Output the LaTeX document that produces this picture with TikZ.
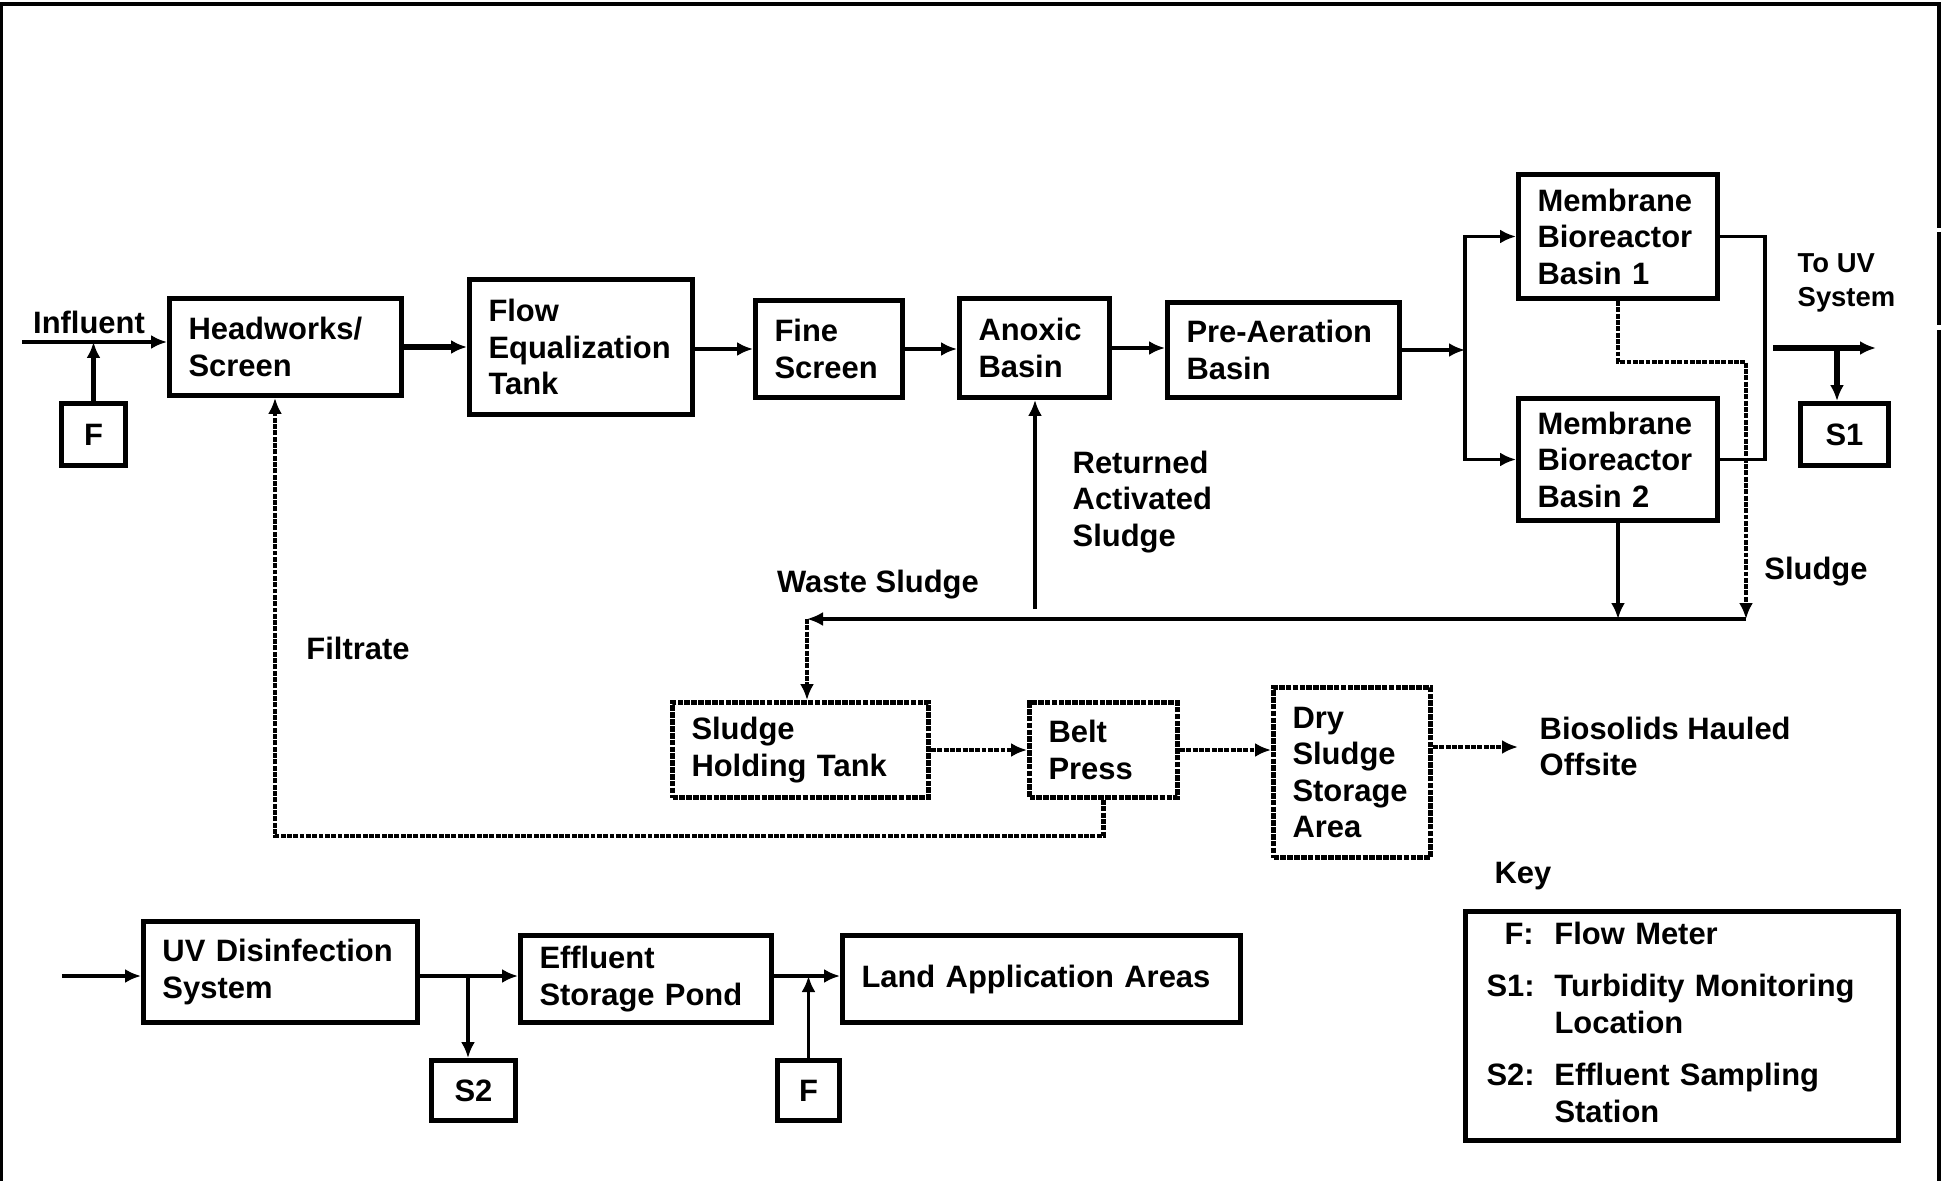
\documentclass[tikz,border=0pt]{standalone}
\usepackage{fontspec}
\setmainfont{Liberation Sans}
\usetikzlibrary{arrows.meta}

\begin{document}
\begin{tikzpicture}[
    every node/.style={font=\fontsize{8.8}{10.4}\selectfont\bfseries},
    unit/.style={draw, line width=1.4pt, align=left, inner xsep=0.19cm, inner ysep=0pt},
    dotbox/.style={unit, dash pattern=on 1.6pt off 0.35pt},
    tag/.style={draw, line width=1.4pt, inner sep=0pt},
    lbl/.style={align=left, inner sep=0pt},
    flow/.style={->, >={Latex[length=0.16cm,width=0.14cm]}, line width=0.9pt},
    heavy/.style={flow, line width=1.5pt},
    dotflow/.style={flow, dash pattern=on 1.4pt off 0.4pt},
    dotheavy/.style={dotflow, line width=1.3pt},
    ]
    \useasboundingbox (0,0) rectangle (19.42,-11.81);
    % frame
    \draw[line width=0.9pt] (0.015,-11.81) -- (0.015,-0.04) -- (19.39,-0.04) -- (19.39,-2.28);
    \draw[line width=0.9pt] (19.39,-2.32) -- (19.39,-3.25);
    \draw[line width=0.9pt] (19.39,-3.30) -- (19.39,-11.81);

    % main train
    \node[unit, minimum width=2.32cm, minimum height=0.97cm, text width=1.94cm] (hw) at (2.855,-3.47) {Headworks/\\Screen};
    \node[unit, minimum width=2.23cm, minimum height=1.35cm, text width=1.85cm] (feq) at (5.81,-3.47) {Flow\\Equalization\\Tank};
    \node[unit, minimum width=1.47cm, minimum height=0.97cm, text width=1.09cm] (fine) at (8.29,-3.49) {Fine\\Screen};
    \node[unit, minimum width=1.50cm, minimum height=0.99cm, text width=1.12cm] (anox) at (10.345,-3.48) {Anoxic\\Basin};
    \node[unit, minimum width=2.32cm, minimum height=0.95cm, text width=1.94cm] (pre) at (12.835,-3.50) {Pre-Aeration\\Basin};
    \node[unit, minimum width=1.99cm, minimum height=1.24cm, text width=1.61cm] (mbr1) at (16.18,-2.365) {Membrane\\Bioreactor\\Basin 1};
    \node[unit, minimum width=1.99cm, minimum height=1.22cm, text width=1.61cm] (mbr2) at (16.18,-4.595) {Membrane\\Bioreactor\\Basin 2};
    \node[tag, minimum width=0.88cm, minimum height=0.62cm] (s1) at (18.445,-4.345) {S1};
    \node[tag, minimum width=0.64cm, minimum height=0.62cm] (ftop) at (0.935,-4.345) {F};

    % sludge train
    \node[dotbox, minimum width=2.56cm, minimum height=0.95cm, text width=2.18cm] (sht) at (8.005,-7.50) {Sludge\\Holding Tank};
    \node[dotbox, minimum width=1.48cm, minimum height=0.95cm, text width=1.10cm] (belt) at (11.035,-7.50) {Belt\\Press};
    \node[dotbox, minimum width=1.57cm, minimum height=1.70cm, text width=1.19cm] (dry) at (13.52,-7.725) {Dry\\Sludge\\Storage\\Area};

    % effluent train
    \node[unit, minimum width=2.74cm, minimum height=1.01cm, text width=2.36cm] (uv) at (2.805,-9.72) {UV Disinfection\\System};
    \node[unit, minimum width=2.51cm, minimum height=0.87cm, text width=2.13cm] (esp) at (6.46,-9.79) {Effluent\\Storage Pond};
    \node[unit, minimum width=3.98cm, minimum height=0.87cm, text width=3.60cm] (land) at (10.415,-9.79) {Land Application Areas};
    \node[tag, minimum width=0.84cm, minimum height=0.60cm] (s2) at (4.735,-10.905) {S2};
    \node[tag, minimum width=0.62cm, minimum height=0.60cm] (fbot) at (8.085,-10.905) {F};

    % labels
    \node[lbl] (lblinf) at (0.89,-3.22) {Influent};
    \node[lbl, anchor=west, font=\fontsize{7.8}{9.5}\selectfont\bfseries] (lbluv) at (17.97,-2.83) {To UV\\System};
    \node[lbl, anchor=west] (lblras) at (10.72,-5.02) {Returned\\Activated\\Sludge};
    \node[lbl] (lblwaste) at (8.78,-5.85) {Waste Sludge};
    \node[lbl] (lblsludge) at (18.16,-5.72) {Sludge};
    \node[lbl] (lblfilt) at (3.58,-6.48) {Filtrate};
    \node[lbl, anchor=west] (bio) at (15.39,-7.465) {Biosolids Hauled\\Offsite};

    % key
    \node[lbl] (lblkey) at (15.23,-8.76) {Key};
    \node[unit, minimum width=4.29cm, minimum height=2.29cm, text width=3.91cm, inner xsep=0.21cm] (key) at (16.82,-10.26) {\begin{tabular}{@{}p{0.68cm}@{}l@{}}
        \hspace{0.18cm}F: & Flow Meter\\[0.16cm]
        S1: & Turbidity Monitoring\\
            & Location\\[0.16cm]
        S2: & Effluent Sampling\\
            & Station
    \end{tabular}};

    % main flow
    \coordinate (infs) at (0.22,-3.42);
    \draw[flow] (infs) -- (infs -| hw.west);
    \draw[heavy] (ftop.north) -- (ftop.north |- infs);
    \draw[heavy] (hw.east) -- (hw.east -| feq.west);
    \draw[flow] (fine.west -| feq.east) -- (fine.west);
    \draw[flow] (fine.east) -- (fine.east -| anox.west);
    \draw[flow] (anox.east) -- (anox.east -| pre.west);
    \coordinate (split) at (14.65,-3.50);
    \draw[flow] (pre.east) -- (split);
    \draw[flow] (split) |- (mbr1.west);
    \draw[flow] (split) |- (mbr2.west);
    \coordinate (join) at (17.65,-3.48);
    \draw[line width=0.9pt] (mbr1.east) -| (join) |- (mbr2.east);
    \coordinate (uvend) at (18.76,-3.48);
    \draw[heavy] ([xshift=0.08cm]join) -- (uvend);
    \coordinate (s1tap) at (18.37,-3.48);
    \draw[heavy] (s1tap) -- (s1tap |- s1.north);

    % sludge lines
    \coordinate (bend1) at (17.46,-3.62);
    \coordinate (slend) at (17.46,-6.19);
    \draw[dotflow] (mbr1.south) |- (bend1) -- (slend);
    \draw[flow] (mbr2.south) -- (mbr2.south |- slend);
    \coordinate (wsl) at (8.07,-6.19);
    \draw[flow, line width=1.3pt] (slend) -- (wsl);
    \draw[dotflow] (wsl) -- (wsl |- sht.north);
    \coordinate (rasb) at (10.35,-6.09);
    \draw[flow] (rasb) -- (rasb |- anox.south);
    \draw[dotheavy] (sht.east) -- (belt.west);
    \draw[dotheavy] (belt.east) -- (belt.east -| dry.west);
    \coordinate (haul) at (15.18,-7.47);
    \draw[dotheavy] (dry.east |- haul) -- (haul);
    \coordinate (filt) at (2.75,-8.36);
    \draw[dotheavy] (belt.south) |- (filt) -- (filt |- hw.south);

    % effluent lines
    \coordinate (uvin) at (0.62,-9.76);
    \draw[flow, line width=1.2pt] (uvin) -- (uvin -| uv.west);
    \draw[flow, line width=1.2pt] (uv.east |- uvin) -- (uvin -| esp.west);
    \coordinate (s2tap) at (4.68,-9.76);
    \draw[flow] (s2tap) -- (s2tap |- s2.north);
    \draw[flow, line width=1.2pt] (esp.east |- uvin) -- (uvin -| land.west);
    \draw[flow] (fbot.north) -- (fbot.north |- uvin);
\end{tikzpicture}
\end{document}
